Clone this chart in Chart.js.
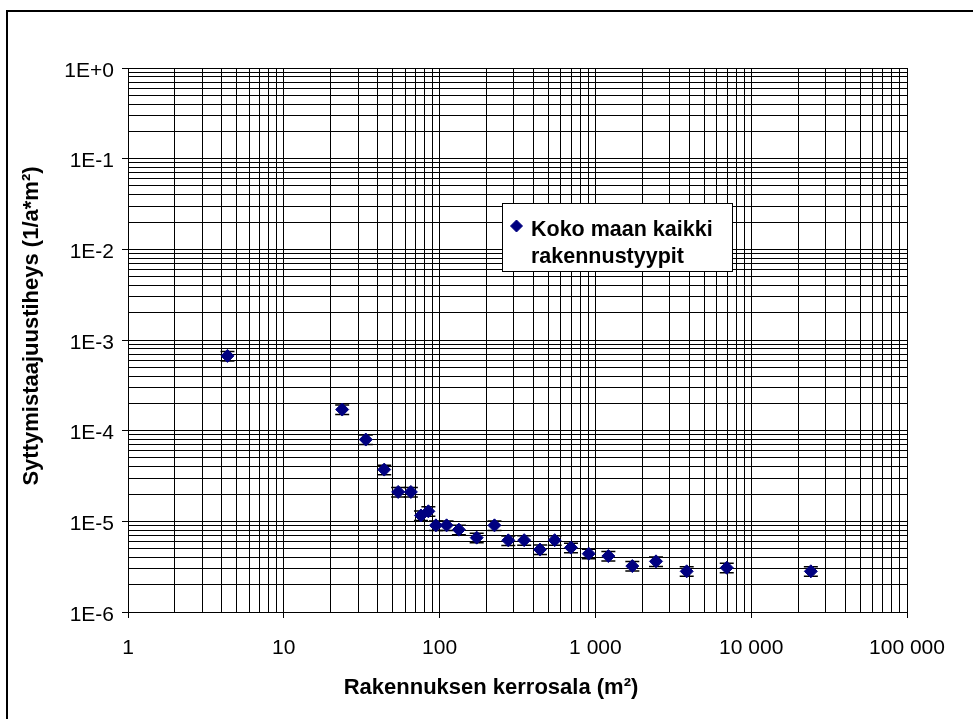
<!DOCTYPE html>
<html>
<head>
<meta charset="utf-8">
<title>Syttymistaajuustiheys</title>
<script src="https://cdn.jsdelivr.net/npm/chart.js@4/dist/chart.umd.min.js"></script>
<style>
  html, body { margin: 0; padding: 0; background: #fff; overflow: hidden; }
  canvas { display: block; }
</style>
</head>
<body>
<canvas id="chart" width="973" height="719"></canvas>
<script>
// Floor area of the building size classes (m²)
const floorArea = [4.35, 23.7, 33.6, 44.1, 54.2, 65.4, 75.9, 84.7, 94.7, 110.9,
  133, 173, 225, 276, 349, 441, 548, 697, 906, 1211,
  1726, 2449, 3855, 6967, 24150];
// Ignition frequency per floor area (1/a*m²)
const ignitionFreq = [6.68e-4, 1.71e-4, 7.98e-5, 3.72e-5, 2.11e-5, 2.11e-5, 1.16e-5, 1.29e-5, 9.03e-6, 9.03e-6,
  8.1e-6, 6.61e-6, 9.03e-6, 6.17e-6, 6.2e-6, 4.88e-6, 6.2e-6, 5.13e-6, 4.40e-6, 4.14e-6,
  3.21e-6, 3.62e-6, 2.81e-6, 3.08e-6, 2.81e-6];
// Relative size of the error bars
const relError = 0.12;

const xTickLabels = ['1', '10', '100', '1 000', '10 000', '100 000'];
const yTickLabels = ['1E-6', '1E-5', '1E-4', '1E-3', '1E-2', '1E-1', '1E+0'];
const seriesLines = ['Koko maan kaikki', 'rakennustyypit'];
const xTitle = 'Rakennuksen kerrosala (m²)';
const yTitle = 'Syttymistaajuustiheys (1/a*m²)';

const FONT = '"Liberation Sans", Arial, Helvetica, sans-serif';
const MARKER = '#000080';

// 1..9 steps in every decade between 10^minExp and 10^maxExp
function decadeTicks(minExp, maxExp) {
  const t = [];
  for (let e = minExp; e <= maxExp; e++) {
    for (let m = 1; m <= 9; m++) {
      if (e === maxExp && m > 1) break;
      t.push({ value: parseFloat((m * Math.pow(10, e)).toPrecision(3)), major: m === 1, exp: e });
    }
  }
  return t;
}

function logAxis(minExp, maxExp, labels, extra) {
  return Object.assign({
    type: 'logarithmic',
    min: Math.pow(10, minExp),
    max: Math.pow(10, maxExp),
    afterBuildTicks: (scale) => { scale.ticks = decadeTicks(minExp, maxExp); },
    grid: {
      color: '#000',
      lineWidth: 1,
      drawTicks: true,
      tickLength: 6,
      tickColor: (c) => (c.tick && c.tick.major) ? '#000' : 'rgba(0,0,0,0)'
    },
    border: { color: '#000', width: 1 }
  }, extra);
}

// Vertical error bars with caps, drawn under the markers
const errorBars = {
  id: 'errorBars',
  beforeDatasetsDraw(chart) {
    const ctx = chart.ctx, xs = chart.scales.x, ys = chart.scales.y;
    ctx.save();
    ctx.strokeStyle = '#000';
    ctx.lineWidth = 1.5;
    const half = 7;
    floorArea.forEach((a, i) => {
      const v = ignitionFreq[i];
      const px = xs.getPixelForValue(a);
      const hi = ys.getPixelForValue(v * (1 + relError));
      const lo = ys.getPixelForValue(v * (1 - relError));
      ctx.beginPath();
      ctx.moveTo(px, hi); ctx.lineTo(px, lo);
      ctx.moveTo(px - half, hi); ctx.lineTo(px + half, hi);
      ctx.moveTo(px - half, lo); ctx.lineTo(px + half, lo);
      ctx.stroke();
    });
    ctx.restore();
  }
};

// Chart frame, axis titles and the boxed legend
const decorations = {
  id: 'decorations',
  beforeDraw(chart) {
    const ctx = chart.ctx;
    ctx.save();
    ctx.fillStyle = '#fff';
    ctx.fillRect(0, 0, chart.width, chart.height);
    ctx.strokeStyle = '#000';
    ctx.lineWidth = 2;
    ctx.beginPath();
    ctx.moveTo(7, chart.height);
    ctx.lineTo(7, 11);
    ctx.lineTo(chart.width, 11);
    ctx.stroke();
    ctx.restore();
  },
  afterDraw(chart) {
    const ctx = chart.ctx;
    ctx.save();
    ctx.fillStyle = '#000';
    ctx.font = 'bold 22px ' + FONT;
    ctx.textAlign = 'center';
    ctx.textBaseline = 'alphabetic';
    ctx.fillText(xTitle, 491, 694);
    ctx.translate(38, 326);
    ctx.rotate(-Math.PI / 2);
    ctx.fillText(yTitle, 0, 0);
    ctx.restore();

    ctx.save();
    ctx.fillStyle = '#fff';
    ctx.fillRect(502.5, 203.5, 230, 68);
    ctx.strokeStyle = '#000';
    ctx.lineWidth = 1;
    ctx.strokeRect(502.5, 203.5, 230, 68);
    ctx.fillStyle = MARKER;
    ctx.strokeStyle = MARKER;
    Chart.helpers.drawPoint(ctx, { pointStyle: 'rectRot', radius: 6, borderWidth: 1, rotation: 0 }, 516.5, 226);
    ctx.fillStyle = '#000';
    ctx.font = 'bold 21.5px ' + FONT;
    ctx.textAlign = 'left';
    ctx.textBaseline = 'alphabetic';
    ctx.fillText(seriesLines[0], 531, 236);
    ctx.fillText(seriesLines[1], 531, 263);
    ctx.restore();
  }
};

new Chart(document.getElementById('chart'), {
  type: 'scatter',
  data: {
    datasets: [{
      label: seriesLines.join(' '),
      data: floorArea.map((a, i) => ({ x: a, y: ignitionFreq[i] })),
      pointStyle: 'rectRot',
      pointRadius: 6.5,
      pointHoverRadius: 6.5,
      backgroundColor: MARKER,
      borderColor: MARKER,
      borderWidth: 1,
      showLine: false
    }]
  },
  options: {
    responsive: false,
    animation: false,
    devicePixelRatio: 1,
    layout: { padding: { left: 0, top: 68, right: 66, bottom: 0 } },
    plugins: { legend: { display: false }, tooltip: { enabled: false } },
    scales: {
      x: logAxis(0, 5, xTickLabels, {
        position: 'bottom',
        afterFit: (s) => { s.height = 107; },
        ticks: {
          autoSkip: false, maxRotation: 0, minRotation: 0, color: '#000', padding: 18,
          font: { family: FONT, size: 21 },
          callback: (v, i, ticks) => ticks[i].major ? xTickLabels[ticks[i].exp] : ''
        }
      }),
      y: logAxis(-6, 0, yTickLabels, {
        position: 'left',
        afterFit: (s) => { s.width = 128; },
        ticks: {
          autoSkip: false, maxRotation: 0, minRotation: 0, color: '#000', padding: 8, labelOffset: 3,
          font: { family: FONT, size: 21 },
          callback: (v, i, ticks) => ticks[i].major ? yTickLabels[ticks[i].exp + 6] : ''
        }
      })
    }
  },
  plugins: [decorations, errorBars]
});
</script>
</body>
</html>
